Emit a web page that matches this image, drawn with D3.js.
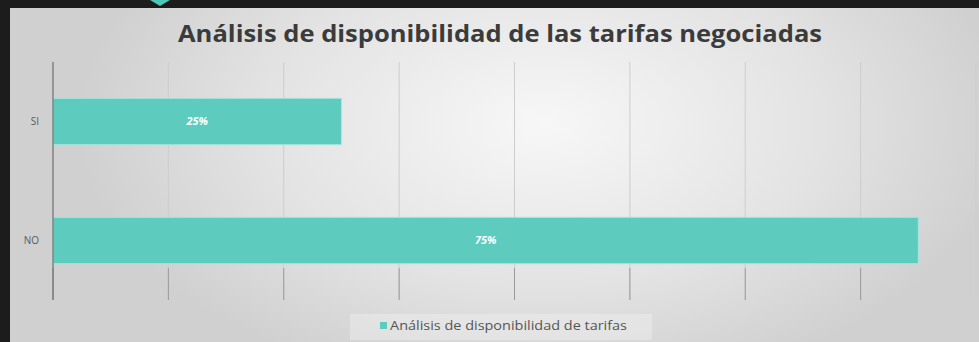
<!DOCTYPE html>
<html lang="es">
<head>
<meta charset="UTF-8">
<title>Análisis de disponibilidad de las tarifas negociadas</title>
<script src="https://cdn.jsdelivr.net/npm/d3@7"></script>
<style>
  body { margin: 0; background: #1c1c1c; }
  svg { display: block; }
</style>
</head>
<body>
<script>
var categories = ["SI", "NO"];
var values = [25, 75];
var ticks = [0, 10, 20, 30, 40, 50, 60, 70, 80];
var title = "Análisis de disponibilidad de las tarifas negociadas";
var seriesName = "Análisis de disponibilidad de tarifas";

var w = 979, h = 342;
var font = "'Century Gothic', 'URW Gothic', 'Open Sans', Lato, sans-serif";

var svg = d3.select("body").append("svg")
    .attr("width", w)
    .attr("height", h);

// background: light center, gray edges
var defs = svg.append("defs");
var grad = defs.append("radialGradient")
    .attr("id", "bg")
    .attr("cx", "0.55").attr("cy", "0.35").attr("r", "0.8")
    .attr("gradientTransform", "translate(0.55,0.35) scale(0.6,1) translate(-0.55,-0.35)");
grad.append("stop").attr("offset", "0%").attr("stop-color", "#f7f7f7");
grad.append("stop").attr("offset", "60%").attr("stop-color", "#e3e3e3");
grad.append("stop").attr("offset", "100%").attr("stop-color", "#d0d0d0");

svg.append("rect").attr("width", w).attr("height", h).attr("fill", "#1c1c1c");
svg.append("rect")
    .attr("x", 10).attr("y", 8)
    .attr("width", w - 10).attr("height", h - 8)
    .attr("fill", "url(#bg)");

// small teal marker on top edge
svg.append("path")
    .attr("d", "M150,0 L170,0 L160,6 Z")
    .attr("fill", "#4fc7b8");

var x = d3.scaleLinear().domain([0, 80]).range([53, 976]);
var y = d3.scaleBand().domain(categories).range([62, 300]).paddingInner(0.61).paddingOuter(0.305);

// gridlines
svg.append("g").selectAll("line")
    .data(ticks.slice(1))
    .enter().append("line")
    .attr("x1", function(d) { return x(d); })
    .attr("x2", function(d) { return x(d); })
    .attr("y1", 62).attr("y2", 300)
    .attr("stroke", "#cdcdcd")
    .attr("stroke-width", 1);

// bars
svg.append("g").selectAll("rect")
    .data(values)
    .enter().append("rect")
    .attr("x", x(0))
    .attr("y", function(d, i) { return y(categories[i]); })
    .attr("width", function(d) { return x(d) - x(0); })
    .attr("height", y.bandwidth())
    .attr("fill", "#5ecbbf")
    .attr("stroke", "#a7e6de")
    .attr("stroke-width", 1);

// bottom tick segments (darker part of grid below bars)
svg.append("g").selectAll("line")
    .data(ticks.slice(0, -1))
    .enter().append("line")
    .attr("x1", function(d) { return x(d); })
    .attr("x2", function(d) { return x(d); })
    .attr("y1", 268).attr("y2", 300)
    .attr("stroke", "#9a9a9a")
    .attr("stroke-width", 1);

// category axis
var yAxis = svg.append("g")
    .attr("transform", "translate(" + x(0) + ",0)")
    .call(d3.axisLeft(y).tickSize(0).tickPadding(14));
yAxis.select(".domain").remove();
svg.append("line")
    .attr("x1", x(0)).attr("x2", x(0))
    .attr("y1", 62).attr("y2", 300)
    .attr("stroke", "#6e6e6e").attr("stroke-width", 1.2);
yAxis.selectAll("text")
    .attr("fill", "#5a5a5a")
    .style("font-family", font)
    .style("font-size", "10px");

// value labels
svg.append("g").selectAll("text")
    .data(values)
    .enter().append("text")
    .attr("x", function(d) { return (x(0) + x(d)) / 2; })
    .attr("y", function(d, i) { return y(categories[i]) + y.bandwidth() / 2; })
    .attr("dy", "0.35em")
    .attr("text-anchor", "middle")
    .attr("fill", "#ffffff")
    .style("font-family", font)
    .style("font-weight", "bold")
    .style("font-style", "italic")
    .style("font-size", "11px")
    .text(function(d) { return d + "%"; });

// title
svg.append("text")
    .attr("x", 500).attr("y", 42)
    .attr("text-anchor", "middle")
    .attr("textLength", 644)
    .attr("lengthAdjust", "spacingAndGlyphs")
    .attr("fill", "#3b3b3b")
    .style("font-family", font)
    .style("font-weight", "bold")
    .style("font-size", "23px")
    .text(title);

// legend
svg.append("rect")
    .attr("x", 350).attr("y", 314).attr("width", 302).attr("height", 26)
    .attr("fill", "#f0f0f0").attr("opacity", 0.45);
svg.append("rect")
    .attr("x", 380).attr("y", 322).attr("width", 7).attr("height", 7)
    .attr("fill", "#5ecbbf");
svg.append("text")
    .attr("x", 390).attr("y", 330)
    .attr("textLength", 237)
    .attr("lengthAdjust", "spacingAndGlyphs")
    .attr("fill", "#555555")
    .style("font-family", font)
    .style("font-size", "12px")
    .text(seriesName);
</script>
</body>
</html>
